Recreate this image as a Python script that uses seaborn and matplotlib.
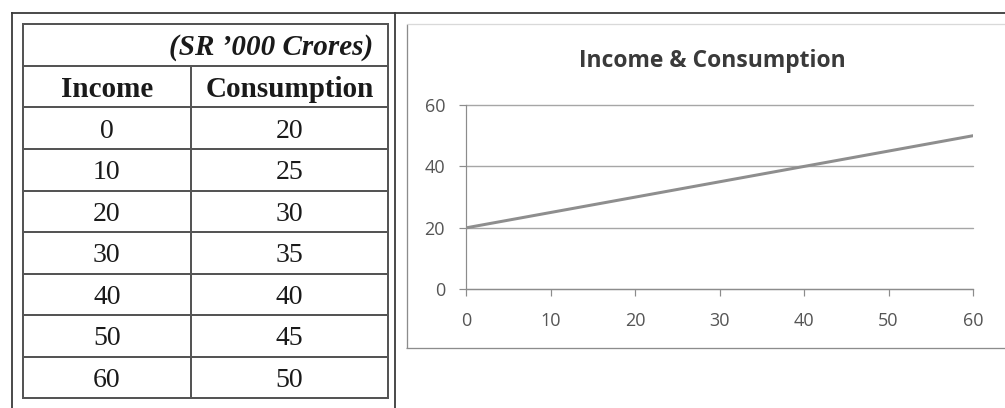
import matplotlib
matplotlib.use("Agg")
import matplotlib.pyplot as plt
import seaborn as sns
import pandas as pd

# ---- data ----
income = [0, 10, 20, 30, 40, 50, 60]
consumption = [20, 25, 30, 35, 40, 45, 50]
unit_note = "(SR \u2019000 Crores)"
col_headers = ["Income", "Consumption"]
chart_title = "Income & Consumption"
x_ticks = [0, 10, 20, 30, 40, 50, 60]
y_ticks = [0, 20, 40, 60]

sns.set_style("white")
plt.rcParams['font.family'] = ['Open Sans', 'DejaVu Sans']

W, H = 1005, 408
PX = 0.72  # points per pixel at 100 dpi
fig = plt.figure(figsize=(W / 100, H / 100), dpi=100)

# page layer in pixel coordinates (y grows downward)
page = fig.add_axes([0, 0, 1, 1], zorder=0)
page.set_xlim(0, W)
page.set_ylim(H, 0)
page.axis('off')


def hline(y, x0, x1, color, lw):
    page.plot([x0, x1], [y, y], color=color, lw=lw * PX, solid_capstyle='butt')


def vline(x, y0, y1, color, lw):
    page.plot([x, x], [y0, y1], color=color, lw=lw * PX, solid_capstyle='butt')


# outer frame
frame_col = '#3a3a3a'
hline(12.8, 11.0, W + 5, frame_col, 1.8)
vline(11.7, 12.0, H + 5, frame_col, 1.8)
vline(395.0, 12.0, H + 5, frame_col, 1.8)

# ---- table ----
tab_col = '#555555'
tx0, tx1, tcol = 22.7, 387.7, 191.0
ty0, rh = 24.3, 41.55
n_rows = 2 + len(income)
ty1 = ty0 + n_rows * rh
for k in range(n_rows + 1):
    hline(ty0 + k * rh, tx0 - 1, tx1 + 1, tab_col, 2.0)
vline(tx0, ty0, ty1, tab_col, 2.0)
vline(tx1, ty0, ty1, tab_col, 2.0)
vline(tcol, ty0 + rh, ty1, tab_col, 2.0)

serif = ['Liberation Serif', 'DejaVu Serif']
c1 = (tx0 + tcol) / 2
c2 = (tcol + tx1) / 2


def row_base(i, size_pt):
    return ty0 + (i + 0.5) * rh + 0.34 * size_pt / PX


page.text(373.5, row_base(0, 21), unit_note, ha='right', va='baseline',
          family=serif, fontsize=21, fontweight='bold', fontstyle='italic',
          color='#1a1a1a')
page.text(c1, row_base(1, 21), col_headers[0], ha='center', va='baseline',
          family=serif, fontsize=21, fontweight='bold', color='#1a1a1a')
page.text(c2, row_base(1, 21), col_headers[1], ha='center', va='baseline',
          family=serif, fontsize=21, fontweight='bold', color='#1a1a1a')
for i, (inc, con) in enumerate(zip(income, consumption)):
    page.text(c1, row_base(i + 2, 20), str(inc), ha='center', va='baseline',
              family=serif, fontsize=20, color='#1a1a1a')
    page.text(c2, row_base(i + 2, 20), str(con), ha='center', va='baseline',
              family=serif, fontsize=20, color='#1a1a1a')

# ---- chart box ----
box_col = '#8c8c8c'
vline(406.7, 24.0, 348.3, box_col, 1.3)
hline(348.3, 406.0, W + 5, box_col, 1.3)
hline(24.0, 406.7, W + 5, '#d9d9d9', 1.3)

page.text(712, 66.7, chart_title, ha='center', va='baseline', fontsize=16.5,
          fontweight='bold', color='#3a3a3a')

# ---- line chart ----
ax_l, ax_r, ax_t, ax_b = 466.0, 973.0, 105.0, 289.3
ax = fig.add_axes([ax_l / W, (H - ax_b) / H, (ax_r - ax_l) / W, (ax_b - ax_t) / H],
                  zorder=1)
ax.patch.set_alpha(0)

df = pd.DataFrame({"Income": income, "Consumption": consumption})
sns.lineplot(data=df, x="Income", y="Consumption", ax=ax, color='#8e8e8e',
             linewidth=3.0 * PX, zorder=3)

ax.set_xlim(0, 60)
ax.set_ylim(0, 60)
ax.set_xticks(x_ticks)
ax.set_yticks(y_ticks)
ax.set_xlabel("")
ax.set_ylabel("")

grid_col = '#a6a6a6'
ax.yaxis.grid(True, color=grid_col, lw=1.4 * PX)
ax.xaxis.grid(False)
for s in ('top', 'right'):
    ax.spines[s].set_visible(False)
for s in ('left', 'bottom'):
    ax.spines[s].set_color(box_col)
    ax.spines[s].set_linewidth(1.2 * PX)

ax.tick_params(axis='both', which='major', bottom=True, left=True,
               length=7 * PX, width=1.2 * PX, color=box_col,
               labelcolor='#555555', labelsize=13)
ax.tick_params(axis='y', pad=10)
ax.tick_params(axis='x', pad=11.5)
for gl in ax.get_ygridlines():
    gl.set_clip_on(False)

fig.savefig("out.png", dpi=100)
